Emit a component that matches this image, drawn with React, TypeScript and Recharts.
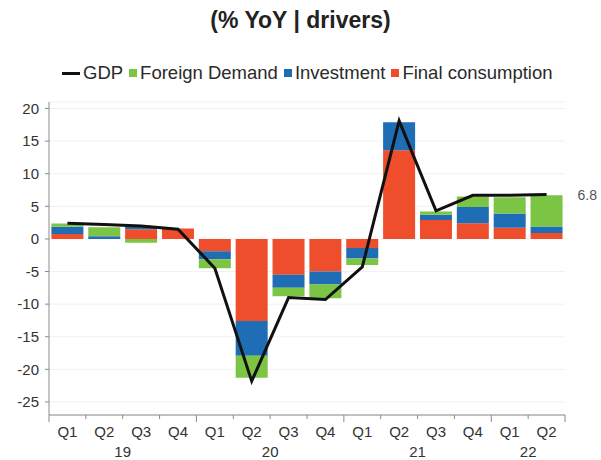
import React from "react";
import {
  ComposedChart,
  Bar,
  Line,
  XAxis,
  YAxis,
  CartesianGrid,
  LabelList,
} from "recharts";

const quarters = ["Q1", "Q2", "Q3", "Q4", "Q1", "Q2", "Q3", "Q4", "Q1", "Q2", "Q3", "Q4", "Q1", "Q2"];
const years = ["19", "19", "19", "19", "20", "20", "20", "20", "21", "21", "21", "21", "22", "22"];

const finalConsumption = [0.75, 0, 1.5, 1.6, -1.9, -12.6, -5.5, -5.0, -1.4, 13.6, 2.9, 2.4, 1.7, 0.9];
const investment = [1.1, 0.4, 0.5, 0, -1.2, -5.3, -2.0, -2.0, -1.6, 4.3, 0.8, 2.5, 2.2, 1.0];
const foreignDemand = [0.5, 1.4, -0.6, 0, -1.4, -3.4, -1.3, -2.1, -1.0, 0, 0.5, 1.6, 2.5, 4.8];
const gdp = [2.4, 2.2, 2.0, 1.5, -4.5, -21.8, -9.0, -9.3, -4.3, 18.1, 4.3, 6.7, 6.7, 6.8];

const yTicks = [20, 15, 10, 5, 0, -5, -10, -15, -20, -25];

const RED = "#ee4e2b";
const BLUE = "#1f6db5";
const GREEN = "#7cc444";

const W = 601;
const H = 460;
const margin = { top: 102, right: 36, bottom: 4, left: 0 };
const Y_AXIS_W = 49;
const X_AXIS_H = 41;
const catWidth = (W - margin.left - margin.right - Y_AXIS_W) / quarters.length;

const data = quarters.map((q, i) => ({
  label: q,
  year: years[i],
  fc: finalConsumption[i],
  inv: investment[i],
  fd: foreignDemand[i],
  gdp: gdp[i],
}));

const font = "'Liberation Sans', Arial, sans-serif";

function QuarterTick(props: any) {
  const { x, y, index } = props;
  const left = x - catWidth / 2;
  const yearStart = index === 0 || years[index] !== years[index - 1];
  const last = index === quarters.length - 1;
  const groupSize = years.filter((v) => v === years[index]).length;
  const showYear = index === years.indexOf(years[index]);
  const yearX = left + (groupSize * catWidth) / 2;
  return (
    <g>
      <line x1={left} x2={left} y1={y} y2={y + (yearStart ? 7 : 4)} stroke="#8a8a8a" />
      {last && <line x1={x + catWidth / 2} x2={x + catWidth / 2} y1={y} y2={y + 7} stroke="#8a8a8a" />}
      <text x={x} y={y + 22} textAnchor="middle" fontSize={15} fill="#333" fontFamily={font}>
        {quarters[index]}
      </text>
      {showYear && (
        <text x={yearX} y={y + 42} textAnchor="middle" fontSize={15} fill="#333" fontFamily={font}>
          {years[index]}
        </text>
      )}
    </g>
  );
}

function LastLabel(props: any) {
  const { x, y, index } = props;
  if (index !== gdp.length - 1) return null;
  return (
    <text x={x + 31} y={y + 5} fontSize={14} fill="#555" fontFamily={font}>
      {gdp[index]}
    </text>
  );
}

const legendItems = [
  { name: "GDP", color: "#111", line: true },
  { name: "Foreign Demand", color: GREEN },
  { name: "Investment", color: BLUE },
  { name: "Final consumption", color: RED },
];

export default function App() {
  return (
    <div
      style={{
        position: "absolute",
        left: 0,
        top: 0,
        width: W,
        height: H,
        background: "#fff",
        fontFamily: font,
      }}
    >
      <div
        style={{
          position: "absolute",
          top: 7,
          width: W,
          textAlign: "center",
          fontSize: 23,
          fontWeight: "bold",
          color: "#222",
        }}
      >
        (% YoY | drivers)
      </div>
      <div
        style={{
          position: "absolute",
          top: 62,
          left: 62,
          display: "flex",
          alignItems: "center",
          fontSize: 18.5,
          color: "#2a2a2a",
          whiteSpace: "nowrap",
        }}
      >
        {legendItems.map((it) => (
          <span key={it.name} style={{ display: "flex", alignItems: "center", marginRight: 6 }}>
            {it.line ? (
              <span style={{ width: 18, height: 3, background: it.color, marginRight: 3 }} />
            ) : (
              <span style={{ width: 8, height: 8, background: it.color, marginRight: 3 }} />
            )}
            {it.name}
          </span>
        ))}
      </div>
      <ComposedChart
        width={W}
        height={H}
        data={data}
        margin={margin}
        stackOffset="sign"
        barCategoryGap="6.5%"
      >
        <CartesianGrid vertical={false} stroke="#f1f1f1" />
        <XAxis
          dataKey="label"
          height={X_AXIS_H}
          interval={0}
          tickLine={false}
          tickSize={0}
          tickMargin={0}
          stroke="#8a8a8a"
          tick={<QuarterTick />}
        />
        <YAxis
          width={Y_AXIS_W}
          domain={[-27, 21]}
          ticks={yTicks}
          interval={0}
          tickSize={4}
          tickMargin={6}
          stroke="#8a8a8a"
          tick={{ fontSize: 15, fill: "#333", fontFamily: font }}
        />
        <Bar dataKey="fc" stackId="a" fill={RED} isAnimationActive={false} />
        <Bar dataKey="inv" stackId="a" fill={BLUE} isAnimationActive={false} />
        <Bar dataKey="fd" stackId="a" fill={GREEN} isAnimationActive={false} />
        <Line
          type="linear"
          dataKey="gdp"
          stroke="#111"
          strokeWidth={3}
          dot={false}
          isAnimationActive={false}
        >
          <LabelList dataKey="gdp" content={<LastLabel />} />
        </Line>
      </ComposedChart>
    </div>
  );
}
